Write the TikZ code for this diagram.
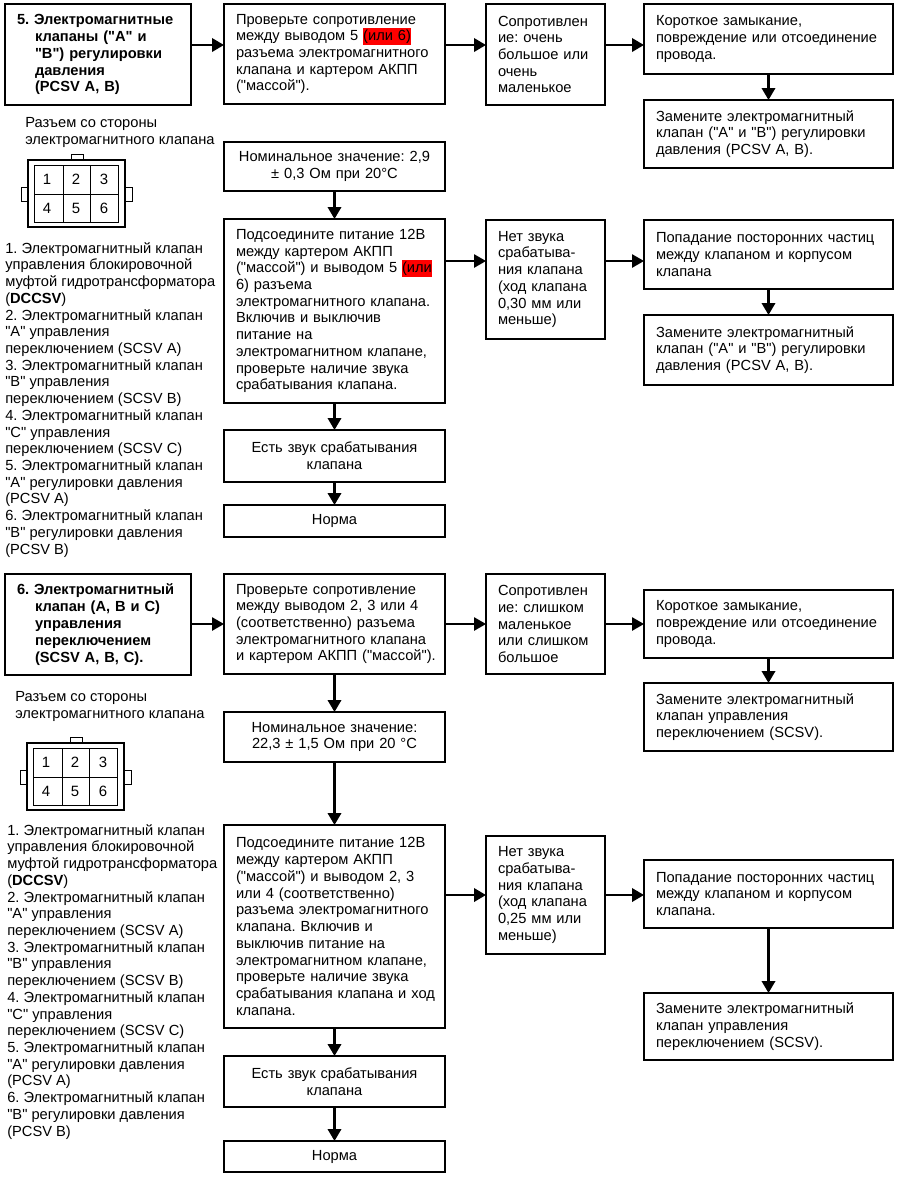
\documentclass[tikz,border=0pt]{standalone}
\usepackage{fontspec}
\setmainfont[Ligatures=TeXOff]{Liberation Sans}
\usetikzlibrary{arrows.meta}
\setlength{\fboxsep}{0pt}
\AtBeginDocument{\frenchspacing}
\newcommand{\redmark}[1]{\smash{\colorbox{red}{\rule[-3.2pt]{0pt}{12.8pt}#1}}}
\newcommand{\titlein}{\hspace*{13.5pt}}
\tikzset{
	box/.style={draw=black, line width=1.9pt, anchor=north west, outer sep=0pt, inner ysep=0pt, align=left, font=\fontsize{11}{12.54}\selectfont},
	titlebox/.style={box, font=\fontsize{11}{12.7}\selectfont\bfseries, text width=121.5pt, inner xsep=9pt},
	widebox/.style={box, text width=147.75pt, inner xsep=9pt},
	midbox/.style={box, text width=71.25pt, inner xsep=9pt},
	sidebox/.style={box, text width=168.75pt, inner xsep=9pt},
	plaintext/.style={anchor=north west, inner sep=0pt, align=left, font=\fontsize{11}{12.54}\selectfont},
	flow/.style={draw=black, line width=1.9pt, -{Triangle[length=9pt, width=10pt]}},
	thinflow/.style={flow, line width=1.3pt},
	connector/.pic={
		\draw[line width=1.5pt] (28,160) rectangle (125,227);
		\draw[line width=.7pt] (34,165) rectangle (118,222);
		\draw[line width=.7pt] (63,165) -- (63,222) (90,165) -- (90,222) (34,194) -- (118,194);
		\draw[line width=.7pt] (71,160) -- (71,154) -- (83,154) -- (83,160);
		\draw[line width=.7pt] (28,187) -- (21,187) -- (21,201) -- (28,201);
		\draw[line width=.7pt] (125,187) -- (132,187) -- (132,201) -- (125,201);
		\foreach \pin/\px/\py in {1/47/179, 2/76/179, 3/104/179, 4/47/208, 5/76/208, 6/104/208}
			\node[inner sep=0pt, font=\fontsize{11.2}{13}\selectfont] (pin\pin) at (\px,\py) {\pin};
	}
}

\begin{document}
\begin{tikzpicture}[x=.75pt, y=-.75pt]
	\useasboundingbox (0,0) rectangle (897,1179);
	\coordinate (upperAB) at (0,45);
	\coordinate (lowerAB) at (0,261);
	\coordinate (upperABC) at (0,624);
	\coordinate (lowerABC) at (0,895);

	% section 5
	\node[titlebox, minimum height=75.75pt] (valveAB) at (5,4) {5. Электромагнитные\\\titlein клапаны ("A" и\\\titlein "B") регулировки\\\titlein давления\\\titlein (PCSV A, B)};
	\node[widebox, minimum height=75pt] (checkAB) at (224,4) {Проверьте сопротивление\\между выводом 5 \redmark{(или 6)}\\разъема электромагнитного\\клапана и картером АКПП\\("массой").};
	\node[midbox, minimum height=75.75pt] (resAB) at (486,4) {Сопротивлен\\ие: очень\\большое или\\очень\\маленькое};
	\node[sidebox, minimum height=52.5pt] (shortAB) at (644,4) {Короткое замыкание,\\повреждение или отсоединение\\провода.};
	\node[sidebox, minimum height=51pt] (replaceAB) at (644,100) {Замените электромагнитный\\клапан ("A" и "B") регулировки\\давления (PCSV A, B).};
	\node[plaintext] (sideAB) at (25,117) {Разъем со стороны\\электромагнитного клапана};
	\pic (plugAB) at (0,0) {connector};
	\node[plaintext] (listAB) at (5,242) {1. Электромагнитный клапан\\управления блокировочной\\муфтой гидротрансформатора\\(\textbf{DCCSV})\\2. Электромагнитный клапан\\"A" управления\\переключением (SCSV A)\\3. Электромагнитный клапан\\"B" управления\\переключением (SCSV B)\\4. Электромагнитный клапан\\"C" управления\\переключением (SCSV C)\\5. Электромагнитный клапан\\"A" регулировки давления\\(PCSV A)\\6. Электромагнитный клапан\\"B" регулировки давления\\(PCSV B)};
	\node[widebox, minimum height=36.75pt, align=center] (nomAB) at (224,142) {Номинальное значение: 2,9\\± 0,3 Ом при 20°C};
	\node[widebox, minimum height=138pt] (testAB) at (224,219) {Подсоедините питание 12В\\между картером АКПП\\("массой") и выводом 5 \redmark{(или}\\6) разъема\\электромагнитного клапана.\\Включив и выключив\\питание на\\электромагнитном клапане,\\проверьте наличие звука\\срабатывания клапана.};
	\node[midbox, minimum height=89.25pt] (silentAB) at (486,220) {Нет звука\\срабатыва-\\ния клапана\\(ход клапана\\0,30 мм или\\меньше)};
	\node[sidebox, minimum height=51.75pt] (dirtAB) at (644,220) {Попадание посторонних частиц\\между клапаном и корпусом\\клапана};
	\node[sidebox, minimum height=52.5pt] (renewAB) at (644,315) {Замените электромагнитный\\клапан ("A" и "B") регулировки\\давления (PCSV A, B).};
	\node[widebox, minimum height=39pt, align=center] (soundAB) at (224,430) {Есть звук срабатывания\\клапана};
	\node[widebox, minimum height=24pt, align=center] (okAB) at (224,505) {Норма};

	\draw[flow] (valveAB.east |- upperAB) -- (checkAB.west |- upperAB);
	\draw[flow] (checkAB.east |- upperAB) -- (resAB.west |- upperAB);
	\draw[flow] (resAB.east |- upperAB) -- (shortAB.west |- upperAB);
	\draw[flow] (shortAB) -- (replaceAB);
	\draw[flow] (nomAB) -- (testAB);
	\draw[thinflow] (testAB.east |- lowerAB) -- (silentAB.west |- lowerAB);
	\draw[thinflow] (silentAB.east |- lowerAB) -- (dirtAB.west |- lowerAB);
	\draw[flow] (dirtAB) -- (renewAB);
	\draw[flow] (testAB) -- (soundAB);
	\draw[flow] (soundAB) -- (okAB);

	% section 6
	\node[titlebox, minimum height=75.75pt] (valveABC) at (5,574) {6. Электромагнитный\\\titlein клапан (A, B и C)\\\titlein управления\\\titlein переключением\\\titlein (SCSV A, B, C).};
	\node[widebox, minimum height=75pt] (checkABC) at (224,574) {Проверьте сопротивление\\между выводом 2, 3 или 4\\(соответственно) разъема\\электромагнитного клапана\\\mbox{и картером АКПП ("массой").}};
	\node[midbox, minimum height=75pt] (resABC) at (486,574) {Сопротивлен\\ие: слишком\\маленькое\\или слишком\\большое};
	\node[sidebox, minimum height=51pt] (shortABC) at (644,590) {Короткое замыкание,\\повреждение или отсоединение\\провода.};
	\node[sidebox, minimum height=51pt] (replaceABC) at (644,683) {Замените электромагнитный\\клапан управления\\переключением (SCSV).};
	\node[plaintext] (sideABC) at (15,691) {Разъем со стороны\\электромагнитного клапана};
	\pic (plugABC) at (-1,583) {connector};
	\node[plaintext] (listABC) at (7,824) {1. Электромагнитный клапан\\управления блокировочной\\муфтой гидротрансформатора\\(\textbf{DCCSV})\\2. Электромагнитный клапан\\"A" управления\\переключением (SCSV A)\\3. Электромагнитный клапан\\"B" управления\\переключением (SCSV B)\\4. Электромагнитный клапан\\"C" управления\\переключением (SCSV C)\\5. Электромагнитный клапан\\"A" регулировки давления\\(PCSV A)\\6. Электромагнитный клапан\\"B" регулировки давления\\(PCSV B)};
	\node[widebox, minimum height=37.5pt, align=center] (nomABC) at (224,712) {Номинальное значение:\\22,3 ± 1,5 Ом при 20 °C};
	\node[widebox, minimum height=152.25pt] (testABC) at (224,825) {Подсоедините питание 12В\\между картером АКПП\\("массой") и выводом 2, 3\\или 4 (соответственно)\\разъема электромагнитного\\клапана. Включив и\\выключив питание на\\электромагнитном клапане,\\проверьте наличие звука\\\mbox{срабатывания клапана и ход}\\клапана.};
	\node[midbox, minimum height=88.5pt] (silentABC) at (486,836) {Нет звука\\срабатыва-\\ния клапана\\(ход клапана\\0,25 мм или\\меньше)};
	\node[sidebox, minimum height=51pt] (dirtABC) at (644,860) {Попадание посторонних частиц\\между клапаном и корпусом\\клапана.};
	\node[sidebox, minimum height=50.25pt] (renewABC) at (644,993) {Замените электромагнитный\\клапан управления\\переключением (SCSV).};
	\node[widebox, minimum height=38.25pt, align=center] (soundABC) at (224,1056) {Есть звук срабатывания\\клапана};
	\node[widebox, minimum height=23.25pt, align=center] (okABC) at (224,1141) {Норма};

	\draw[thinflow] (valveABC.east |- upperABC) -- (checkABC.west |- upperABC);
	\draw[thinflow] (checkABC.east |- upperABC) -- (resABC.west |- upperABC);
	\draw[thinflow] (resABC.east |- upperABC) -- (shortABC.west |- upperABC);
	\draw[flow] (shortABC) -- (replaceABC);
	\draw[flow] (checkABC) -- (nomABC);
	\draw[flow] (nomABC) -- (testABC);
	\draw[flow] (testABC.east |- lowerABC) -- (silentABC.west |- lowerABC);
	\draw[flow] (silentABC.east |- lowerABC) -- (dirtABC.west |- lowerABC);
	\draw[flow] (dirtABC) -- (renewABC);
	\draw[flow] (testABC) -- (soundABC);
	\draw[flow] (soundABC) -- (okABC);
\end{tikzpicture}
\end{document}
